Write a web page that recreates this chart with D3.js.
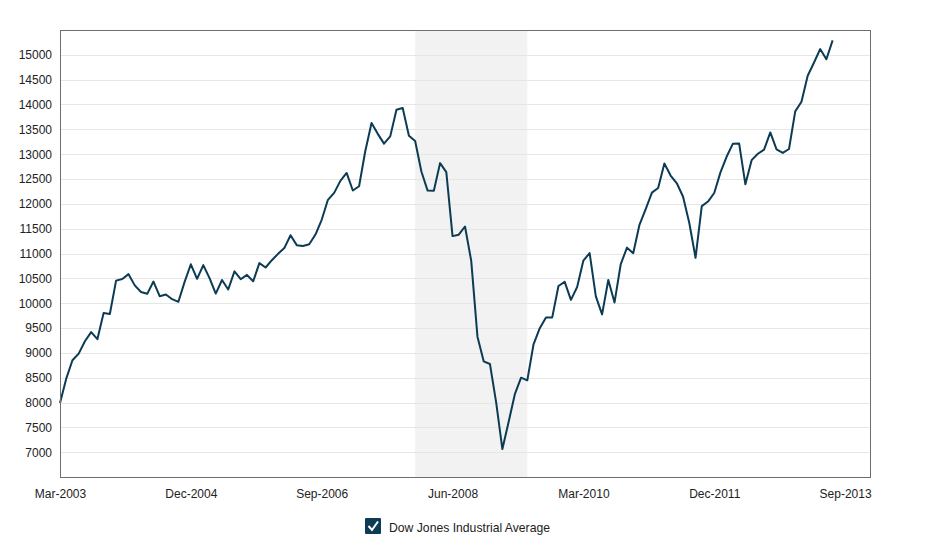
<!DOCTYPE html>
<html>
<head>
<meta charset="utf-8">
<script src="https://cdn.jsdelivr.net/npm/d3@7"></script>
<style>
  body { margin: 0; background: #fff; font-family: "Liberation Sans", Arial, sans-serif; }
  .grid line { stroke: #e6e6e6; }
  .axis text { font-size: 12px; fill: #222; }
</style>
</head>
<body>
<svg id="chart" width="930" height="550"></svg>
<script>
// monthly closes, Mar-2003 .. Jul-2013
var startYear = 2003, startMonth = 2;
var dowValues = [
  7992, 8480, 8850, 8985, 9234, 9416, 9275, 9801, 9782, 10454,
  10488, 10584, 10358, 10226, 10188, 10435, 10140, 10174, 10080, 10027, 10428, 10783,
  10490, 10766, 10504, 10193, 10467, 10275, 10641, 10482, 10569, 10440, 10806, 10718,
  10865, 10993, 11109, 11367, 11168, 11150, 11186, 11381, 11679, 12081, 12221, 12463,
  12622, 12269, 12354, 13063, 13628, 13409, 13212, 13358, 13896, 13930, 13372, 13265,
  12650, 12266, 12263, 12820, 12638, 11350, 11378, 11544, 10851, 9325, 8829, 8776,
  8001, 7063, 7609, 8168, 8500, 8447, 9172, 9496, 9712, 9713, 10345, 10428,
  10067, 10325, 10857, 11009, 10137, 9774, 10466, 10015, 10788, 11118, 11006, 11578,
  11892, 12226, 12320, 12811, 12570, 12414, 12143, 11614, 10913, 11955, 12046, 12218,
  12633, 12952, 13212, 13214, 12393, 12880, 13009, 13091, 13437, 13096, 13026, 13104,
  13861, 14054, 14579, 14840, 15116, 14910, 15290
];
var yTicks = [7000, 7500, 8000, 8500, 9000, 9500, 10000, 10500, 11000, 11500,
  12000, 12500, 13000, 13500, 14000, 14500, 15000];
var xTickMonths = [0, 21, 42, 63, 84, 105, 126];
var recession = [57, 75]; // Dec-2007 .. Jun-2009
var monthNames = ["Jan","Feb","Mar","Apr","May","Jun","Jul","Aug","Sep","Oct","Nov","Dec"];

function monthLabel(i) {
  var m = startMonth + i;
  return monthNames[m % 12] + "-" + (startYear + Math.floor(m / 12));
}

var margin = {top: 30, right: 60, bottom: 73, left: 60},
    width = 930 - margin.left - margin.right,
    height = 550 - margin.top - margin.bottom;

var svg = d3.select("#chart");
var g = svg.append("g").attr("transform", "translate(" + margin.left + "," + margin.top + ")");

var x = d3.scaleLinear().domain([0, 130]).range([0, width]);
var y = d3.scaleLinear().domain([6500, 15500]).range([height, 0]);

g.append("rect")
  .attr("x", x(recession[0]))
  .attr("y", 0)
  .attr("width", x(recession[1]) - x(recession[0]))
  .attr("height", height)
  .attr("fill", "#f2f2f2");

g.append("g")
  .attr("class", "grid")
  .selectAll("line")
  .data(yTicks)
  .enter()
  .append("line")
    .attr("x1", 0)
    .attr("x2", width)
    .attr("y1", function(d){ return Math.round(y(d)) + 0.5; })
    .attr("y2", function(d){ return Math.round(y(d)) + 0.5; });

var line = d3.line()
  .x(function(d, i){ return x(i); })
  .y(function(d){ return y(d); });

g.append("path")
  .datum(dowValues)
  .attr("fill", "none")
  .attr("stroke", "#0c3b54")
  .attr("stroke-width", 2)
  .attr("stroke-linejoin", "round")
  .attr("d", line);

g.append("rect")
  .attr("x", 0.5)
  .attr("y", 0.5)
  .attr("width", width)
  .attr("height", height)
  .attr("fill", "none")
  .attr("stroke", "#6e6e6e");

var yAxis = g.append("g")
  .attr("class", "axis")
  .call(d3.axisLeft(y).tickValues(yTicks).tickSize(0).tickPadding(8).tickFormat(d3.format("d")));
yAxis.select(".domain").remove();

var xAxis = g.append("g")
  .attr("class", "axis")
  .attr("transform", "translate(0," + height + ")")
  .call(d3.axisBottom(x).tickValues(xTickMonths).tickSize(0).tickPadding(12).tickFormat(monthLabel));
xAxis.select(".domain").remove();

// legend
var legend = svg.append("g").attr("transform", "translate(365,518)");
legend.append("rect")
  .attr("width", 16)
  .attr("height", 16)
  .attr("rx", 1)
  .attr("fill", "#0c3b54");
legend.append("path")
  .attr("d", "M3.5,8 L7,12 L13,3.5")
  .attr("fill", "none")
  .attr("stroke", "#fff")
  .attr("stroke-width", 2);
legend.append("text")
  .attr("x", 24)
  .attr("y", 13.5)
  .attr("font-size", "12.2px")
  .attr("fill", "#222")
  .text("Dow Jones Industrial Average");
</script>
</body>
</html>
